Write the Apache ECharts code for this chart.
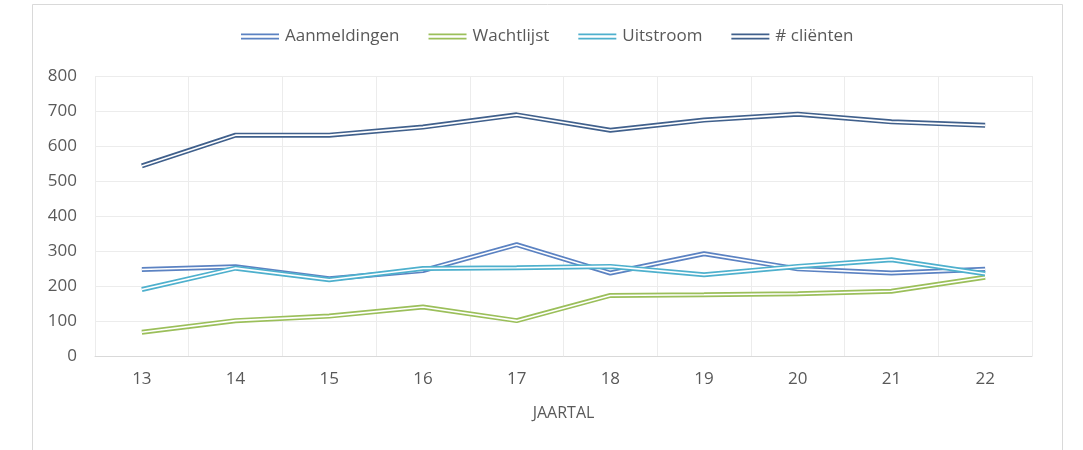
<!DOCTYPE html>
<html>
<head>
<meta charset="utf-8">
<script src="https://cdn.jsdelivr.net/npm/echarts@6/dist/echarts.min.js"></script>
<style>
html,body{margin:0;padding:0;background:#fff;}
#chart{width:1083px;height:450px;}
</style>
</head>
<body>
<div id="chart"></div>
<script>
const categories = ['13','14','15','16','17','18','19','20','21','22'];
const seriesNames = ['Aanmeldingen','Wachtlijst','Uitstroom','# cliënten'];
const aanmeldingen = [247, 255, 221, 244, 318, 237, 292, 249, 237, 248];
const wachtlijst   = [68, 101, 114, 140, 101, 173, 175, 178, 185, 225];
const uitstroom    = [190, 251, 218, 250, 252, 256, 232, 256, 275, 235];
const clienten     = [543, 631, 631, 654, 689, 645, 674, 691, 669, 659];
const colors = ['#5b82c2', '#9bbf5a', '#4eb0cd', '#40608c'];

const dataSets = [aanmeldingen, wachtlijst, uitstroom, clienten];
const series = [];
dataSets.forEach((d, i) => {
  series.push({
    name: seriesNames[i], type: 'line', data: d, symbol: 'none', showSymbol: false,
    lineStyle: {width: 5, color: colors[i]}, itemStyle: {color: colors[i]},
    z: 2 + i * 2, silent: true, animation: false
  });
  series.push({
    name: seriesNames[i] + '_inner', type: 'line', data: d, symbol: 'none', showSymbol: false,
    lineStyle: {width: 1.6, color: '#ffffff'}, itemStyle: {color: '#ffffff'},
    z: 3 + i * 2, silent: true, animation: false
  });
});

const FONT = 'Open Sans';
const chart = echarts.init(document.getElementById('chart'), null, {renderer: 'canvas'});
chart.setOption({
  animation: false,
  backgroundColor: '#ffffff',
  textStyle: {fontFamily: FONT, color: '#595959'},
  graphic: [{
    type: 'rect', silent: true, z: -1,
    shape: {x: 32.5, y: 4.5, width: 1030, height: 470},
    style: {fill: 'none', stroke: '#d9d9d9', lineWidth: 1}
  }],
  legend: {
    data: seriesNames,
    left: 236, top: 23,
    itemWidth: 38, itemHeight: 6,
    itemGap: 29,
    icon: 'path://M0,0H38V1.8H0Z M0,4.2H38V6H0Z',
    textStyle: {fontFamily: FONT, fontSize: 17, color: '#595959', padding: [0, 0, 0, 1]},
    selectedMode: false
  },
  grid: {left: 95, right: 51, top: 76, bottom: 94, containLabel: false},
  xAxis: {
    type: 'category', data: categories, boundaryGap: true,
    name: 'JAARTAL', nameLocation: 'middle', nameGap: 49,
    nameTextStyle: {fontFamily: FONT, fontSize: 16, color: '#595959'},
    axisLine: {show: true, lineStyle: {color: '#d9d9d9', width: 1}},
    axisTick: {show: false},
    axisLabel: {fontFamily: FONT, fontSize: 17, color: '#595959', margin: 15},
    splitLine: {show: true, lineStyle: {color: '#ececec', width: 1}}
  },
  yAxis: {
    type: 'value', min: 0, max: 800, interval: 100,
    axisLine: {show: false}, axisTick: {show: false},
    axisLabel: {fontFamily: FONT, fontSize: 17, color: '#595959', margin: 18},
    splitLine: {show: true, lineStyle: {color: '#ececec', width: 1}}
  },
  series: series
});
</script>
</body>
</html>
